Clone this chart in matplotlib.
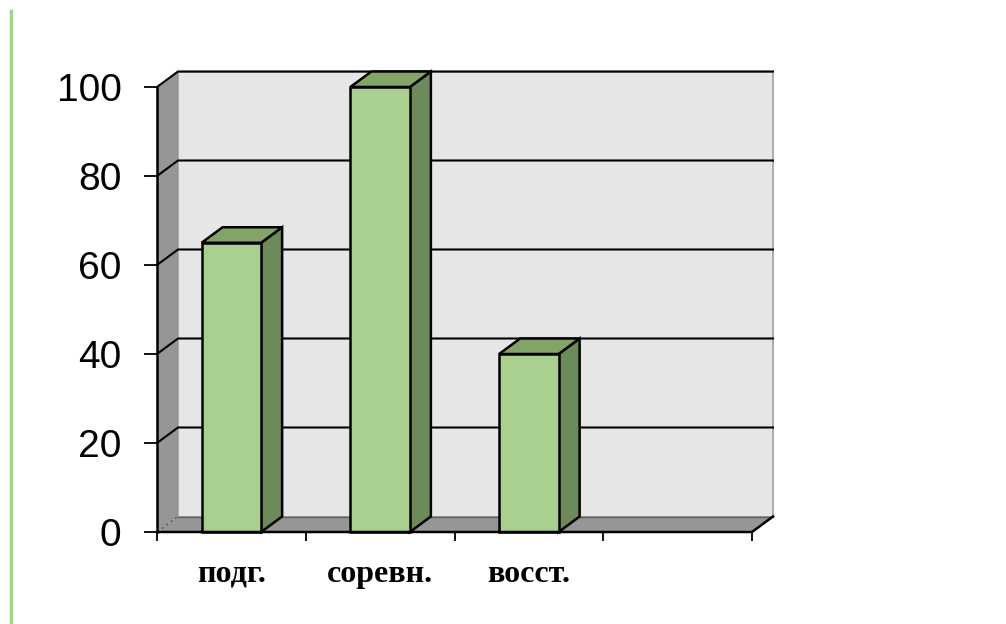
import numpy as np
import matplotlib
matplotlib.use('Agg')
import matplotlib.pyplot as plt
from matplotlib.patches import Polygon, Rectangle
from matplotlib.lines import Line2D

# data
categories = ['подг.', 'соревн.', 'восст.', '']
values = [65, 100, 40, None]
yticks = [0, 20, 40, 60, 80, 100]

# colours
front_col = '#a9d08e'
top_col = '#82a466'
side_col = '#6d8a5b'
wall_col = '#e6e6e6'
side_wall_col = '#969696'

fig = plt.figure(figsize=(10.06, 6.24), dpi=100)
ax = fig.add_axes([157 / 1006, 92 / 624, 595 / 1006, 445 / 624])
ax.set_xlim(0, len(categories))
ax.set_ylim(0, 100)

# 3d depth offset in data units
dx = 21 / 148.75
dy = 15.5 / 4.45
n = len(categories)
bw = 0.4

# back wall
ax.add_patch(Rectangle((dx, dy), n, 100, facecolor=wall_col, edgecolor='#a0a0a0',
                       lw=1.2, clip_on=False, zorder=1))
# left wall
ax.add_patch(Polygon([(0, 0), (0, 100), (dx, 100 + dy), (dx, dy)], closed=True,
                     facecolor=side_wall_col, edgecolor='none', clip_on=False, zorder=1))
# floor
ax.add_patch(Polygon([(0, 0), (n, 0), (n + dx, dy), (dx, dy)], closed=True,
                     facecolor=side_wall_col, edgecolor='none', clip_on=False, zorder=1))
ax.plot([dx, n + dx], [dy, dy], color='#606060', lw=1, clip_on=False, zorder=2)
ax.plot([0, dx], [0, dy], color='#606060', lw=1, ls=(0, (2, 2)), clip_on=False, zorder=2)

# gridlines
for v in yticks[1:]:
    ax.plot([0, dx, n + dx], [v, v + dy, v + dy], color='black', lw=1.5,
            clip_on=False, zorder=2, solid_joinstyle='miter')

# front edges
ax.plot([0, 0], [0, 100], color='black', lw=1.8, clip_on=False, zorder=6)
ax.plot([0, n, n + dx], [0, 0, dy], color='black', lw=1.8, clip_on=False, zorder=6)

# bars
for i, v in enumerate(values):
    if v is None:
        continue
    x0 = i + 0.5 - bw / 2
    x1 = x0 + bw
    kw = dict(closed=True, edgecolor='black', lw=1.8, clip_on=False,
              joinstyle='miter', zorder=4)
    ax.add_patch(Polygon([(x1, 0), (x1, v), (x1 + dx, v + dy), (x1 + dx, dy)],
                         facecolor=side_col, **kw))
    ax.add_patch(Polygon([(x0, v), (x1, v), (x1 + dx, v + dy), (x0 + dx, v + dy)],
                         facecolor=top_col, **kw))
    ax.add_patch(Rectangle((x0, 0), bw, v, facecolor=front_col, edgecolor='black',
                           lw=1.8, clip_on=False, zorder=5))

for s in ax.spines.values():
    s.set_visible(False)
ax.patch.set_visible(False)

ax.set_yticks(yticks)
ax.set_yticklabels([str(t) for t in yticks], fontsize=28, family='Liberation Sans')
ax.tick_params(axis='y', length=9.5, width=1.3, pad=16)

ax.set_xticks(np.arange(n + 1))
ax.set_xticklabels([])
ax.tick_params(axis='x', which='major', length=6.5, width=1.3)
ax.set_xticks(np.arange(n) + 0.5, minor=True)
ax.set_xticklabels(categories, minor=True, fontsize=23, fontweight='bold',
                   family='Liberation Serif')
ax.tick_params(axis='x', which='minor', length=0, pad=20)

# green stripe at the left edge
fig.add_artist(Line2D([10.5 / 1006, 10.5 / 1006], [0, 1 - 11 / 624],
                      color='#a9d18e', lw=2.5, transform=fig.transFigure))

fig.savefig('out.png', dpi=100)
